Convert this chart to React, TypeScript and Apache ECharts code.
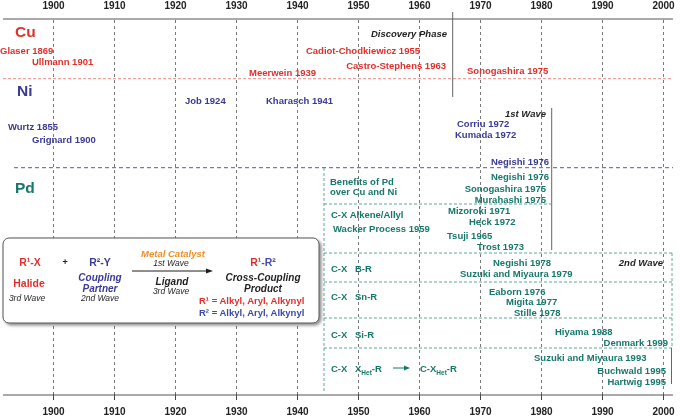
import { useEffect, useRef } from "react";
import * as echarts from "echarts";

// ---- data ----
const tickYears = [1900, 1910, 1920, 1930, 1940, 1950, 1960, 1970, 1980, 1990, 2000];
const metals = ["Cu", "Ni", "Pd"];
const cuEvents = ["Glaser 1869", "Ullmann 1901", "Meerwein 1939", "Cadiot-Chodkiewicz 1955", "Castro-Stephens 1963", "Sonogashira 1975"];
const niEvents = ["Job 1924", "Kharasch 1941", "Wurtz 1855", "Grignard 1900", "Corriu 1972", "Kumada 1972", "Negishi 1976"];
const pdEvents = [
  "Negishi 1976", "Sonogashira 1975", "Murahashi 1975",
  "Mizoroki 1971", "Heck 1972", "Wacker Process 1959", "Tsuji 1965", "Trost 1973",
  "Negishi 1978", "Suzuki and Miyaura 1979",
  "Eaborn 1976", "Migita 1977", "Stille 1978",
  "Hiyama 1988", "Denmark 1999",
  "Suzuki and Miyaura 1993", "Buchwald 1995", "Hartwig 1995",
];
const phases = ["Discovery Phase", "1st Wave", "2nd Wave"];
const pdClasses = ["Alkene/Allyl", "B-R", "Sn-R", "Si-R"];

// ---- layout (pixel placement of annotations) ----
type L = [number, number, "left" | "right"];
const cuLayout: L[] = [[0, 50, "left"], [32, 61, "left"], [249, 72, "left"], [420, 50, "right"], [446, 65, "right"], [467, 70, "left"]];
const niLayout: L[] = [[185, 100, "left"], [266, 100, "left"], [8, 126, "left"], [32, 139, "left"], [457, 123, "left"], [455, 134, "left"], [549, 161, "right"]];
const pdLayout: L[] = [
  [549, 176, "right"], [546, 188, "right"], [546, 199, "right"],
  [448, 210, "left"], [469, 221, "left"], [333, 228, "left"], [447, 235, "left"], [477, 246, "left"],
  [493, 262, "left"], [460, 273, "left"],
  [489, 291, "left"], [506, 301, "left"], [514, 312, "left"],
  [555, 331, "left"], [668, 342, "right"],
  [534, 357, "left"], [666, 370, "right"], [666, 381, "right"],
];
const phaseLayout: L[] = [[447, 33, "right"], [546, 113, "right"], [663, 262, "right"]];

const FONT = '"Liberation Sans", Arial, Helvetica, sans-serif';
const RED = "#e0302c";
const BLUE = "#3a3a94";
const TEAL = "#16776a";
const TEAL_LINE = "#5ea89c";
const ORANGE = "#ef8f2a";
const DARK = "#1e1e1e";

function txt(text: string, x: number, y: number, color: string, o: any = {}) {
  const align = o.align ?? "left";
  return {
    type: "text",
    x,
    y,
    z: 20,
    silent: true,
    style: {
      text,
      fill: color,
      fontSize: o.size ?? 9.5,
      fontWeight: o.weight ?? "bold",
      fontStyle: o.italic ? "italic" : "normal",
      fontFamily: FONT,
      align,
      textAlign: align,
      verticalAlign: "middle",
      textVerticalAlign: "middle",
      rich: o.rich,
    },
  };
}

function ln(x1: number, y1: number, x2: number, y2: number, stroke: string, dash?: number[], w = 1, z = 5) {
  return {
    type: "line",
    z,
    silent: true,
    shape: { x1, y1, x2, y2 },
    style: { stroke, lineWidth: w, lineDash: dash },
  };
}

export default function App() {
  const ref = useRef<HTMLDivElement>(null);
  useEffect(() => {
    if (!ref.current) return;
    const chart = echarts.init(ref.current, undefined, { renderer: "svg" });

    const g: any[] = [];
    // axis lines
    g.push(ln(3, 19, 673, 19, "#555"));
    g.push(ln(3, 395, 673, 395, "#555"));
    // section separators
    g.push(ln(3, 78.7, 673, 78.7, "#ee8a86", [3, 2]));
    g.push(ln(14, 167.7, 673, 167.7, "#5a5a8e", [4, 3]));
    // Pd dashed boxes
    g.push(ln(324, 168, 324, 393, TEAL_LINE, [3, 2]));
    g.push(ln(324, 204, 551, 204, TEAL_LINE, [3, 2]));
    [253, 282, 318, 348].forEach((y) => g.push(ln(324, y, 672, y, TEAL_LINE, [3, 2])));
    g.push(ln(672, 253, 672, 348, TEAL_LINE, [3, 2]));
    // phase lines
    g.push(ln(452.7, 12, 452.7, 97, "#666"));
    g.push(ln(551.7, 108, 551.7, 250, "#666"));
    g.push(ln(671.5, 348, 671.5, 384, "#666"));

    // metal labels
    const metalCol = [RED, BLUE, TEAL];
    const metalPos = [[15, 31], [17, 90], [15, 187]];
    metals.forEach((m, i) => g.push(txt(m, metalPos[i][0], metalPos[i][1], metalCol[i], { size: 15.5 })));

    cuEvents.forEach((t, i) => g.push(txt(t, cuLayout[i][0], cuLayout[i][1], RED, { align: cuLayout[i][2] })));
    niEvents.forEach((t, i) => g.push(txt(t, niLayout[i][0], niLayout[i][1], BLUE, { align: niLayout[i][2] })));
    pdEvents.forEach((t, i) => g.push(txt(t, pdLayout[i][0], pdLayout[i][1], TEAL, { align: pdLayout[i][2] })));
    phases.forEach((t, i) => g.push(txt(t, phaseLayout[i][0], phaseLayout[i][1], DARK, { align: phaseLayout[i][2], italic: true })));

    // Pd class labels
    g.push(txt("Benefits of Pd", 330, 181, TEAL));
    g.push(txt("over Cu and Ni", 330, 191, TEAL));
    g.push(txt("C-X " + pdClasses[0], 331, 214, TEAL));
    const rowY = [268, 296, 334];
    rowY.forEach((y, i) => {
      g.push(txt("C-X", 331, y, TEAL));
      g.push(txt(pdClasses[i + 1], 355, y, TEAL));
    });
    const subRich = {
      n: { fontSize: 9.5, fontWeight: "bold", fill: TEAL, color: TEAL, fontFamily: FONT, lineHeight: 12 },
      s: { fontSize: 6.5, fontWeight: "bold", fill: TEAL, color: TEAL, fontFamily: FONT, lineHeight: 12, verticalAlign: "bottom", padding: [0, 0, -2, 0] },
    };
    g.push(txt("C-X", 331, 368, TEAL));
    g.push(txt("{n|X}{s|Het}{n|-R}", 355, 368, TEAL, { rich: subRich }));
    g.push(ln(393, 368, 406, 368, TEAL, undefined, 1, 20));
    g.push({ type: "polygon", z: 20, shape: { points: [[404, 365.5], [410, 368], [404, 370.5]] }, style: { fill: TEAL } });
    g.push(txt("{n|C-X}{s|Het}{n|-R}", 420, 368, TEAL, { rich: subRich }));

    // legend box
    g.push({
      type: "rect",
      z: 15,
      shape: { x: 3, y: 238, width: 316, height: 85, r: 6 },
      style: { fill: "#fff", stroke: "#555", lineWidth: 1, shadowBlur: 3, shadowOffsetX: 2, shadowOffsetY: 2, shadowColor: "rgba(0,0,0,0.45)" },
    });
    const c = (t: string, x: number, y: number, col: string, o: any = {}) => g.push(txt(t, x, y, col, { align: "center", ...o }));
    c("R¹-X", 30, 262, RED, { size: 10.5 });
    c("Halide", 29, 283, RED, { size: 10.5 });
    c("3rd Wave", 27, 298, DARK, { italic: true, weight: "normal", size: 8.5 });
    c("+", 65, 262, DARK, { size: 9 });
    c("R²-Y", 100, 262, BLUE, { size: 10.5 });
    c("Coupling", 100, 277, BLUE, { italic: true, size: 10 });
    c("Partner", 100, 288, BLUE, { italic: true, size: 10 });
    c("2nd Wave", 100, 298, DARK, { italic: true, weight: "normal", size: 8.5 });
    c("Metal Catalyst", 173, 253, ORANGE, { italic: true, size: 9.5 });
    c("1st Wave", 171, 263, DARK, { italic: true, weight: "normal", size: 8.5 });
    g.push(ln(132, 271, 208, 271, DARK, undefined, 1, 20));
    g.push({ type: "polygon", z: 20, shape: { points: [[206, 268.5], [213, 271], [206, 273.5]] }, style: { fill: DARK } });
    c("Ligand", 172, 281, DARK, { italic: true, size: 10 });
    c("3rd Wave", 171, 291, DARK, { italic: true, weight: "normal", size: 8.5 });
    c("{r|R¹}{b|-R²}", 263, 262, RED, {
      size: 10.5,
      rich: {
        r: { fontSize: 10.5, fontWeight: "bold", fill: RED, color: RED, fontFamily: FONT },
        b: { fontSize: 10.5, fontWeight: "bold", fill: "#4a4ab0", color: "#4a4ab0", fontFamily: FONT },
      },
    });
    c("Cross-Coupling", 263, 277, DARK, { italic: true, size: 10 });
    c("Product", 263, 288, DARK, { italic: true, size: 10 });
    g.push(txt("R¹ = Alkyl, Aryl, Alkynyl", 199, 300, RED));
    g.push(txt("R² = Alkyl, Aryl, Alkynyl", 199, 312, "#3c4aa8"));

    const labelStyle = { fontSize: 10, fontWeight: "bold" as const, color: "#222", fontFamily: FONT, formatter: (v: number) => String(v) };
    chart.setOption({
      animation: false,
      grid: { left: 53.5, right: 16.5, top: 19, bottom: 21 },
      xAxis: [
        {
          type: "value",
          position: "top",
          min: tickYears[0],
          max: tickYears[tickYears.length - 1],
          interval: 10,
          axisLine: { show: false },
          axisTick: { show: false },
          splitLine: { show: false },
          axisLabel: { ...labelStyle, margin: 10 },
        },
        {
          type: "value",
          position: "bottom",
          min: tickYears[0],
          max: tickYears[tickYears.length - 1],
          interval: 10,
          axisLine: { show: false },
          axisTick: { show: true, length: 6, lineStyle: { color: "#444" } },
          splitLine: { show: true, lineStyle: { type: [3, 3], color: "#555", width: 0.8 } },
          axisLabel: { ...labelStyle, margin: 12 },
        },
      ],
      yAxis: { type: "value", show: false, min: 0, max: 1 },
      series: [{ type: "scatter", xAxisIndex: 1, data: [] }],
      graphic: { elements: g },
    });
    return () => chart.dispose();
  }, []);
  return <div ref={ref} style={{ width: 680, height: 416, position: "fixed", left: 0, top: 0 }} />;
}
